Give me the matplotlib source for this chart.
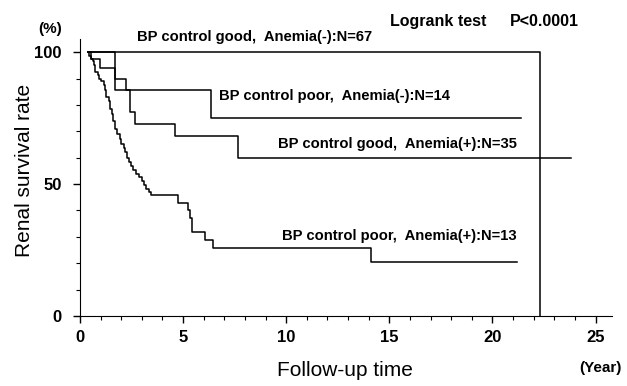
import numpy as np
import matplotlib
matplotlib.use("Agg")
import matplotlib.pyplot as plt

plt.rcParams['font.family'] = ['Liberation Sans', 'DejaVu Sans']

# Kaplan-Meier curves (time in years, survival in %)
good_neg_t = [0.4, 22.3]
good_neg_s = [100, 0]

poor_neg_t = [0.4, 1.7, 6.35, 21.4]
poor_neg_s = [100, 85.8, 75.1, 75.1]

good_pos_t = [0.4, 0.55, 0.97, 1.7, 2.25, 2.42, 2.67, 4.6, 7.66, 23.8]
good_pos_s = [100, 97.5, 94.0, 90.0, 85.8, 77.3, 72.8, 68.2, 59.9, 59.9]

poor_pos_t = [0.4, 0.45, 0.55, 0.63, 0.66, 0.74, 0.87, 0.94, 1.03, 1.15, 1.23,
              1.27, 1.39, 1.47, 1.55, 1.62, 1.68, 1.8, 1.95, 2.0, 2.12, 2.2,
              2.28, 2.36, 2.45, 2.55, 2.7, 2.85, 3.0, 3.12, 3.22, 3.35, 3.45,
              4.74, 5.25, 5.35, 5.42, 6.07, 6.47, 14.1, 21.2]
poor_pos_s = [100, 98.5, 97.5, 96.5, 95.0, 92.5, 91.5, 90.0, 89.0, 87.5, 85.5,
              83.0, 81.5, 78.5, 76.5, 74.0, 71.0, 68.8, 67.0, 65.2, 63.8, 62.0,
              60.0, 58.5, 57.0, 55.5, 54.0, 52.5, 51.0, 49.5, 48.3, 47.0, 45.9,
              42.9, 40.0, 37.1, 32.0, 28.8, 25.7, 20.6, 20.6]

labels = ["BP control good,  Anemia(-):N=67",
          "BP control poor,  Anemia(-):N=14",
          "BP control good,  Anemia(+):N=35",
          "BP control poor,  Anemia(+):N=13"]
label_pos = [(2.76, 105.8), (6.74, 83.4), (9.6, 65.2), (9.8, 30.5)]

x_major = [0, 5, 10, 15, 20, 25]
y_major = [0, 50, 100]

fig = plt.figure(figsize=(6.27, 3.86), dpi=100)
ax = fig.add_axes([80 / 627, 1 - 316 / 386, 532 / 627, 277 / 386])

for t, s in [(good_neg_t, good_neg_s), (poor_neg_t, poor_neg_s),
             (good_pos_t, good_pos_s), (poor_pos_t, poor_pos_s)]:
    ax.step(t, s, where='post', color='black', lw=1.1)

for txt, (x, y) in zip(labels, label_pos):
    ax.text(x, y, txt, fontsize=10.6, fontweight='bold', ha='left', va='center')

ax.text(15.03, 111.8, "Logrank test", fontsize=11.5, fontweight='bold',
        ha='left', va='center')
ax.text(20.85, 111.8, "P<0.0001", fontsize=11.5, fontweight='bold',
        ha='left', va='center')

ax.set_xlim(0, 25.8)
ax.set_ylim(0, 105)
ax.spines['top'].set_visible(False)
ax.spines['right'].set_visible(False)
ax.set_xticks(x_major)
ax.set_xticks(np.arange(0, 26, 1), minor=True)
ax.set_yticks(y_major)
ax.set_yticks(np.arange(0, 101, 10), minor=True)
ax.tick_params(which='major', length=5, width=1, direction='out',
               labelsize=12, pad=5)
ax.tick_params(which='minor', length=3, width=0.8, direction='out')
ax.tick_params(axis='y', pad=8)
for lab in ax.get_xticklabels() + ax.get_yticklabels():
    lab.set_fontweight('bold')

fig.text(345 / 627, 1 - 370 / 386, "Follow-up time", fontsize=15,
         ha='center', va='center')
fig.text(25 / 627, 1 - 170 / 386, "Renal survival rate", fontsize=15,
         rotation=90, ha='center', va='center')
fig.text(50 / 627, 1 - 29 / 386, "(%)", fontsize=11, fontweight='bold',
         ha='center', va='center')
fig.text(600 / 627, 1 - 368 / 386, "(Year)", fontsize=11, fontweight='bold',
         ha='center', va='center')

fig.savefig("out.png", dpi=100)
